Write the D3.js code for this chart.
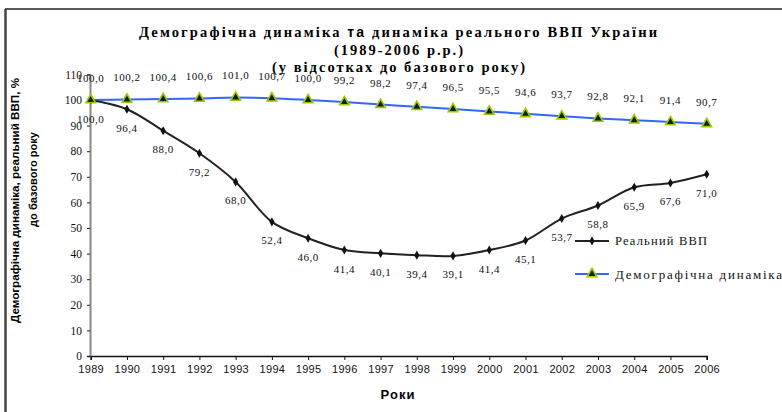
<!DOCTYPE html>
<html>
<head>
<meta charset="utf-8">
<script src="https://cdn.jsdelivr.net/npm/d3@7"></script>
<style>
  body { margin: 0; background: #fff; }
  svg { display: block; }
</style>
</head>
<body>
<div id="chart"></div>
<script>
// Chart data
var years = [1989, 1990, 1991, 1992, 1993, 1994, 1995, 1996, 1997, 1998,
             1999, 2000, 2001, 2002, 2003, 2004, 2005, 2006];
var gdp = [100.0, 96.4, 88.0, 79.2, 68.0, 52.4, 46.0, 41.4, 40.1, 39.4,
           39.1, 41.4, 45.1, 53.7, 58.8, 65.9, 67.6, 71.0];
var demo = [100.0, 100.2, 100.4, 100.6, 101.0, 100.7, 100.0, 99.2, 98.2, 97.4,
            96.5, 95.5, 94.6, 93.7, 92.8, 92.1, 91.4, 90.7];
var yTicks = [0, 10, 20, 30, 40, 50, 60, 70, 80, 90, 100, 110];
var seriesNames = ["Реальний ВВП", "Демографічна динаміка"];

var SERIF = "'Liberation Serif', 'Times New Roman', 'DejaVu Serif', serif";
var SANS = "'Liberation Sans', Arial, 'DejaVu Sans', sans-serif";

var svgWidth = 782;
var svgHeight = 412;

var svg = d3.select("#chart")
  .append("svg")
  .attr("width", svgWidth)
  .attr("height", svgHeight);

// outer frame (runs off the right and bottom edge)
svg.append("line")
  .attr("x1", 5).attr("x2", svgWidth).attr("y1", 9).attr("y2", 9)
  .attr("stroke", "#222").attr("stroke-width", 1.5);
svg.append("line")
  .attr("x1", 5.5).attr("x2", 5.5).attr("y1", 9).attr("y2", svgHeight)
  .attr("stroke", "#444").attr("stroke-width", 2.5);

// scales
var x = d3.scaleLinear().domain([1989, 2006]).range([90.7, 706.7]);
var y = d3.scaleLinear().domain([0, 110]).range([356, 74.4]);

// title
var t1 = svg.append("text").attr("font-family", SERIF)
  .attr("x", 139).attr("y", 37)
  .attr("font-size", 14.5).attr("font-weight", "bold")
  .attr("textLength", 518).attr("lengthAdjust", "spacing");
t1.append("tspan").text("Демографічна динаміка  ");
t1.append("tspan").attr("font-family", SANS).attr("font-size", 14).text("та");
t1.append("tspan").text(" динаміка реального ВВП України");

svg.append("text").attr("font-family", SERIF)
  .attr("x", 334).attr("y", 55)
  .attr("font-size", 14.5).attr("font-weight", "bold")
  .attr("textLength", 129).attr("lengthAdjust", "spacing")
  .text("(1989-2006 р.р.)");

svg.append("text").attr("font-family", SERIF)
  .attr("x", 272).attr("y", 72)
  .attr("font-size", 14.5).attr("font-weight", "bold")
  .attr("textLength", 253).attr("lengthAdjust", "spacing")
  .text("(у відсотках до базового року)");

// y axis
var leftAxis = d3.axisLeft(y).tickValues(yTicks).tickSize(3).tickPadding(5);
var yAxis = svg.append("g")
  .attr("transform", "translate(90,0)")
  .call(leftAxis);
yAxis.select(".domain").attr("stroke", "#888").attr("stroke-width", 2);
yAxis.selectAll(".tick line").attr("stroke", "#222");
yAxis.selectAll("text")
  .attr("font-family", SERIF)
  .attr("font-size", 11.5)
  .attr("fill", "#111");

// x axis
var bottomAxis = d3.axisBottom(x).tickValues(years).tickSize(4).tickPadding(5)
  .tickFormat(d3.format("d"));
var xAxis = svg.append("g")
  .attr("transform", "translate(0,356)")
  .call(bottomAxis);
xAxis.select(".domain").attr("stroke", "#111").attr("stroke-width", 1.5);
xAxis.selectAll(".tick line").attr("stroke", "#111");
xAxis.selectAll("text")
  .attr("font-family", SANS)
  .attr("font-size", 11)
  .attr("letter-spacing", 0.3)
  .attr("fill", "#111");

// axis titles
svg.append("text").attr("font-family", SANS)
  .attr("x", 398).attr("y", 399)
  .attr("text-anchor", "middle")
  .attr("font-size", 13).attr("font-weight", "bold")
  .attr("letter-spacing", 1)
  .text("Роки");

svg.append("text").attr("font-family", SANS)
  .attr("transform", "translate(19,200.5) rotate(-90)")
  .attr("text-anchor", "middle")
  .attr("font-size", 10).attr("font-weight", "bold")
  .attr("textLength", 245).attr("lengthAdjust", "spacingAndGlyphs")
  .text("Демографічна динаміка, реальний ВВП, %");
svg.append("text").attr("font-family", SANS)
  .attr("transform", "translate(37,179.5) rotate(-90)")
  .attr("text-anchor", "middle")
  .attr("font-size", 10).attr("font-weight", "bold")
  .attr("textLength", 95).attr("lengthAdjust", "spacingAndGlyphs")
  .text("до базового року");

// lines
var valueLine = d3.line()
  .x((d, i) => x(years[i]))
  .y(d => y(d))
  .curve(d3.curveCatmullRom.alpha(0.5));

svg.append("path")
  .datum(demo)
  .attr("d", valueLine)
  .attr("fill", "none")
  .attr("stroke", "#3366ff")
  .attr("stroke-width", 2);

svg.append("path")
  .datum(gdp)
  .attr("d", valueLine)
  .attr("fill", "none")
  .attr("stroke", "#222")
  .attr("stroke-width", 2);

// markers
var diamond = d3.symbol().type(d3.symbolDiamond).size(24);
var triangle = d3.symbol().type(d3.symbolTriangle).size(40);

svg.selectAll(".gdp-pt")
  .data(gdp)
  .enter()
  .append("path")
  .attr("class", "gdp-pt")
  .attr("transform", (d, i) => `translate(${x(years[i])},${y(d)})`)
  .attr("d", diamond)
  .attr("fill", "#111");

svg.selectAll(".demo-pt")
  .data(demo)
  .enter()
  .append("path")
  .attr("class", "demo-pt")
  .attr("transform", (d, i) => `translate(${x(years[i])},${y(d)})`)
  .attr("d", triangle)
  .attr("fill", "#1a1a1a")
  .attr("stroke", "#99cc00")
  .attr("stroke-width", 1.6);

// data labels
var fmt = v => v.toFixed(1).replace(".", ",");

svg.selectAll(".demo-lbl")
  .data(demo)
  .enter()
  .append("text")
  .attr("font-family", SERIF)
  .attr("x", (d, i) => x(years[i]))
  .attr("y", d => y(d) - 18)
  .attr("text-anchor", "middle")
  .attr("font-size", 11)
  .attr("letter-spacing", 0.5)
  .attr("fill", "#111")
  .text(d => fmt(d));

svg.selectAll(".gdp-lbl")
  .data(gdp)
  .enter()
  .append("text")
  .attr("font-family", SERIF)
  .attr("x", (d, i) => x(years[i]))
  .attr("y", d => y(d) + 22.5)
  .attr("text-anchor", "middle")
  .attr("font-size", 11)
  .attr("letter-spacing", 0.5)
  .attr("fill", "#111")
  .text(d => fmt(d));

// legend
var lg1 = svg.append("g").attr("transform", "translate(575,241)");
lg1.append("line").attr("x1", 0).attr("x2", 34)
  .attr("stroke", "#222").attr("stroke-width", 2);
lg1.append("path").attr("transform", "translate(17,0)").attr("d", diamond).attr("fill", "#111");
lg1.append("text").attr("font-family", SERIF)
  .attr("x", 40).attr("y", 4)
  .attr("font-size", 12.5)
  .attr("textLength", 92).attr("lengthAdjust", "spacing")
  .attr("fill", "#111")
  .text(seriesNames[0]);

var lg2 = svg.append("g").attr("transform", "translate(575,274)");
lg2.append("line").attr("x1", 0).attr("x2", 34)
  .attr("stroke", "#3366ff").attr("stroke-width", 2);
lg2.append("path").attr("transform", "translate(17,0)").attr("d", triangle)
  .attr("fill", "#1a1a1a").attr("stroke", "#99cc00").attr("stroke-width", 1.6);
lg2.append("text").attr("font-family", SERIF)
  .attr("x", 40).attr("y", 4.5)
  .attr("font-size", 13)
  .attr("textLength", 167).attr("lengthAdjust", "spacing")
  .attr("fill", "#111")
  .text(seriesNames[1]);
</script>
</body>
</html>
